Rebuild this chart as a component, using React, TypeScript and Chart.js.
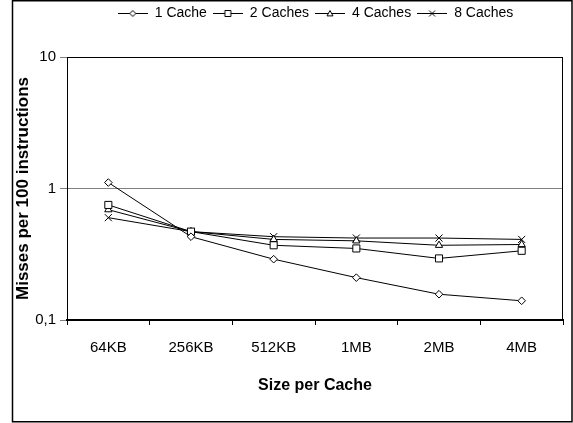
import React, { useEffect, useRef } from 'react';
import { Chart, registerables } from 'chart.js';

Chart.register(...registerables);

const categories = ['64KB', '256KB', '512KB', '1MB', '2MB', '4MB'];
const seriesNames = ['1 Cache', '2 Caches', '4 Caches', '8 Caches'];
const oneCache = [1.11, 0.43, 0.29, 0.21, 0.157, 0.14];
const twoCaches = [0.75, 0.47, 0.37, 0.35, 0.294, 0.336];
const fourCaches = [0.69, 0.47, 0.41, 0.4, 0.37, 0.375];
const eightCaches = [0.6, 0.47, 0.43, 0.42, 0.42, 0.41];
const yTicks = [0.1, 1, 10];
const markerStyles = ['rectRot', 'rect', 'triangle', 'crossRot'];
const markerRadii = [3.8, 5, 4.2, 5];

const FONT = "'Liberation Sans', Arial, Helvetica, sans-serif";
const LEGEND_H = 57;

function drawMarker(ctx: CanvasRenderingContext2D, style: string, x: number, y: number, r: number) {
  ctx.beginPath();
  if (style === 'rectRot') {
    ctx.moveTo(x, y - r);
    ctx.lineTo(x + r, y);
    ctx.lineTo(x, y + r);
    ctx.lineTo(x - r, y);
    ctx.closePath();
    ctx.fill();
    ctx.stroke();
  } else if (style === 'rect') {
    ctx.rect(x - r, y - r, 2 * r, 2 * r);
    ctx.fill();
    ctx.stroke();
  } else if (style === 'triangle') {
    ctx.moveTo(x, y - r);
    ctx.lineTo(x + r, y + r * 0.8);
    ctx.lineTo(x - r, y + r * 0.8);
    ctx.closePath();
    ctx.fill();
    ctx.stroke();
  } else {
    ctx.moveTo(x - r, y - r);
    ctx.lineTo(x + r, y + r);
    ctx.moveTo(x + r, y - r);
    ctx.lineTo(x - r, y + r);
    ctx.stroke();
  }
}

function makeLegendSymbol(style: string): HTMLCanvasElement {
  const c = document.createElement('canvas');
  c.width = 30;
  c.height = 12;
  const ctx = c.getContext('2d')!;
  ctx.strokeStyle = '#000';
  ctx.fillStyle = '#fff';
  ctx.lineWidth = 1;
  ctx.beginPath();
  ctx.moveTo(0, 6.5);
  ctx.lineTo(30, 6.5);
  ctx.stroke();
  drawMarker(ctx, style, 15, 6.5, 3);
  return c;
}

const framePlugin = {
  id: 'frame',
  beforeDraw(chart: any) {
    const { ctx, width, height } = chart;
    ctx.save();
    ctx.fillStyle = '#fff';
    ctx.fillRect(0, 0, width, height);
    ctx.strokeStyle = '#000';
    ctx.lineWidth = 1.5;
    ctx.strokeRect(12.5, 0.75, 559.5, 421);
    ctx.restore();
  },
  beforeDatasetsDraw(chart: any) {
    const { ctx, chartArea: a } = chart;
    ctx.save();
    ctx.strokeStyle = '#000';
    ctx.lineWidth = 1;
    ctx.beginPath();
    ctx.moveTo(a.left, a.top + 0.5);
    ctx.lineTo(a.right, a.top + 0.5);
    ctx.moveTo(a.right - 0.5, a.top);
    ctx.lineTo(a.right - 0.5, a.bottom);
    ctx.stroke();
    ctx.restore();
  },
};

const legendLayoutPlugin = {
  id: 'legendLayout',
  beforeLayout(chart: any) {
    const lg = chart.legend;
    if (lg && !lg._patchedFit) {
      const orig = lg.fit;
      lg.fit = function () {
        orig.call(this);
        this.height = LEGEND_H;
      };
      lg._patchedFit = true;
    }
  },
  afterLayout(chart: any) {
    const lg = chart.legend;
    if (lg) {
      lg.left = 58;
      lg.right = 573;
    }
  },
};

export default function App() {
  const ref = useRef<HTMLCanvasElement | null>(null);

  useEffect(() => {
    document.body.style.margin = '0';
    if (!ref.current) return;
    const seriesValues = [oneCache, twoCaches, fourCaches, eightCaches];
    const symbols = markerStyles.map((s) => makeLegendSymbol(s));
    const chart = new Chart(ref.current, {
      type: 'line',
      data: {
        labels: categories,
        datasets: seriesNames.map((name, i) => ({
          label: name,
          data: seriesValues[i],
          borderColor: '#000',
          borderWidth: 1,
          backgroundColor: '#fff',
          pointStyle: markerStyles[i] as any,
          pointRadius: markerRadii[i],
          pointBackgroundColor: '#fff',
          pointBorderColor: '#000',
          pointBorderWidth: 1,
          tension: 0,
          fill: false,
        })),
      },
      options: {
        animation: false,
        responsive: false,
        maintainAspectRatio: false,
        layout: { padding: { left: 0, right: 10, top: 0, bottom: 23 } },
        plugins: {
          title: { display: false },
          tooltip: { enabled: false },
          legend: {
            display: true,
            position: 'top',
            align: 'center',
            labels: {
              usePointStyle: true,
              pointStyleWidth: 30,
              padding: 6,
              color: '#000',
              font: { size: 14, family: FONT },
              generateLabels: (c: any) => {
                const items = (Chart.defaults.plugins.legend.labels as any).generateLabels(c);
                return items.map((it: any, i: number) => ({ ...it, pointStyle: symbols[i] }));
              },
            },
          },
        },
        scales: {
          x: {
            type: 'category',
            offset: true,
            afterFit: (s: any) => {
              s.height = 80;
            },
            grid: {
              offset: true,
              drawOnChartArea: false,
              drawTicks: true,
              tickLength: 5,
              color: '#000',
              tickColor: '#000',
            },
            border: { display: true, color: '#000', width: 2 },
            ticks: {
              color: '#000',
              font: { size: 15, family: FONT },
              padding: 14,
              maxRotation: 0,
              autoSkip: false,
            },
            title: {
              display: true,
              text: 'Size per Cache',
              color: '#000',
              font: { size: 16, weight: 'bold', family: FONT },
              padding: { top: 0, bottom: 5 },
            },
          },
          y: {
            type: 'logarithmic',
            min: 0.1,
            max: 10,
            afterFit: (s: any) => {
              s.width = 67;
            },
            afterBuildTicks: (s: any) => {
              s.ticks = yTicks.map((v) => ({ value: v }));
            },
            grid: {
              color: (c: any) => (c.tick && c.tick.value === 1 ? '#808080' : 'rgba(0,0,0,0)'),
              tickColor: '#808080',
              tickLength: 7,
              drawTicks: true,
            },
            border: { display: true, color: '#000', width: 1 },
            ticks: {
              color: '#000',
              font: { size: 15, family: FONT },
              padding: 4,
              callback: (v: any) => String(v).replace('.', ','),
            },
            title: {
              display: true,
              text: 'Misses per 100 instructions',
              color: '#000',
              font: { size: 17, weight: 'bold', family: FONT },
              padding: { top: 13, bottom: 0 },
            },
          },
        },
      },
      plugins: [framePlugin, legendLayoutPlugin],
    });
    return () => chart.destroy();
  }, []);

  return (
    <div style={{ width: 573, height: 423, position: 'relative' }}>
      <canvas ref={ref} width={573} height={423} style={{ display: 'block', width: 573, height: 423 }} />
    </div>
  );
}
